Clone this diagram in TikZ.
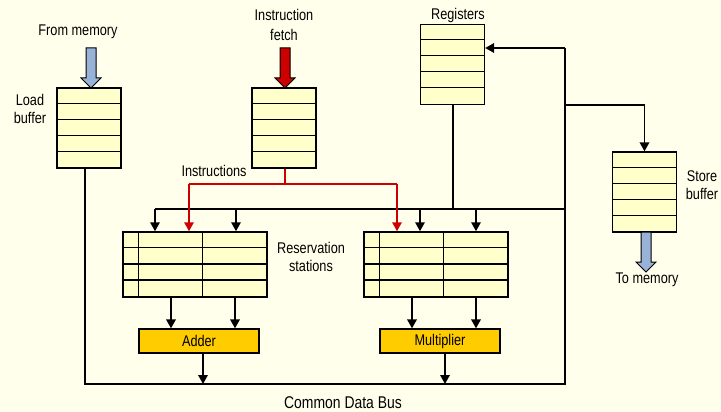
\documentclass[tikz,border=0pt]{standalone}
\usepackage{fontspec}
\setmainfont{Liberation Sans}[FakeStretch=0.82]
\usetikzlibrary{arrows.meta,calc}
\definecolor{bg}{RGB}{255,255,236}
\definecolor{bufcol}{RGB}{255,255,204}
\definecolor{fucol}{RGB}{255,204,0}
\definecolor{bluearr}{RGB}{152,178,216}
\definecolor{redarr}{RGB}{204,0,0}
\begin{document}
\begin{tikzpicture}[x=1pt,y=-1pt,
  every node/.style={font=\fontsize{15.5}{17.5}\selectfont},
  buf/.style={draw, fill=bufcol, line width=1.3, minimum width=64, minimum height=80, inner sep=0},
  rs/.style={draw, fill=bufcol, line width=1.5, minimum width=144, minimum height=65, inner sep=0},
  fu/.style={draw, fill=fucol, line width=1.3, minimum width=120, minimum height=24, inner sep=0},
  lbl/.style={inner sep=0, align=center},
  grid/.style={line width=1.3},
  rsgrid/.style={line width=1.5},
  bus/.style={line width=2},
  arr/.style={line width=1.8, -{Triangle[length=9,width=9.5]}},
  redl/.style={line width=1.5, draw=redarr},
  redarrow/.style={line width=1.5, draw=redarr, -{Triangle[length=9,width=9.5]}, fill=redarr},
  blockarr/.style={draw, line width=1}
]
\fill[bg] (0,0) rectangle (721,412);
\useasboundingbox (0,0) rectangle (721,412);

% buffers
\node[buf] (lb) at (89,128) {};
\node[buf] (ib) at (284,128) {};
\node[buf] (reg) at (452.5,64.5) {};
\node[buf] (st) at (644.5,192) {};
\foreach \b in {lb,ib,reg,st}
  \foreach \d in {16,32,48,64}
    \draw[grid] ([yshift=-\d]\b.north west) -- ([yshift=-\d]\b.north east);

% reservation stations
\node[rs] (rsa) at (195,264.5) {};
\node[rs] (rsm) at (436,264.5) {};
\foreach \b in {rsa,rsm}{
  \foreach \d in {16.25,32.5,48.75}
    \draw[rsgrid] ([yshift=-\d]\b.north west) -- ([yshift=-\d]\b.north east);
  \foreach \d in {16,80}
    \draw[rsgrid] ([xshift=\d]\b.north west) -- ([xshift=\d]\b.south west);
}

% functional units
\node[fu] (add) at (199,341) {Adder};
\node[fu] (mul) at (440,341) {Multiplier};

% block arrows
\draw[blockarr, fill=bluearr] (86,48) -- (96,48) -- (96,78) -- (101,78) -- (91,88) -- (81,78) -- (86,78) -- cycle;
\draw[blockarr, fill=redarr] (280,48) -- (290,48) -- (290,78) -- (295,78) -- (285,88) -- (275,78) -- (280,78) -- cycle;
\draw[blockarr, fill=bluearr] (641,232) -- (651,232) -- (651,262) -- (656,262) -- (646,272) -- (636,262) -- (641,262) -- cycle;

% coordinates
\coordinate (cdbL) at (85,384);
\coordinate (cdbR) at (565,384);
\coordinate (regIn) at (565,48);
\coordinate (stBr) at (565,105);
\coordinate (opL) at (155,209);
\coordinate (opR) at (565,209);
\coordinate (insJ) at (285,184);
\coordinate (insL) at (189,184);
\coordinate (insR) at (397,184);

% common data bus and register/store paths
\draw[bus] (lb.south -| cdbL) -- (cdbL) -- (cdbR) -- (regIn);
\draw[arr] (regIn) -- (reg.east |- regIn);
\draw[arr] (stBr) -- (stBr -| st.north) -- (st.north);
\draw[bus] (opL) -- (opR);
\draw[bus] (reg.south) -- (reg.south |- opL);

% operand arrows
\foreach \x in {155,236}
  \draw[arr] (opL -| \x,0) -- (rsa.north -| \x,0);
\foreach \x in {420,476}
  \draw[arr] (opL -| \x,0) -- (rsm.north -| \x,0);

% instruction paths
\draw[redl] (ib.south -| insJ) -- (insJ);
\draw[redl] (insL) -- (insR);
\draw[redarrow] (insL) -- (rsa.north -| insL);
\draw[redarrow] (insR) -- (rsm.north -| insR);

% RS to FUs
\foreach \x in {171,235}
  \draw[arr] (rsa.south -| \x,0) -- (add.north -| \x,0);
\foreach \x in {412,476}
  \draw[arr] (rsm.south -| \x,0) -- (mul.north -| \x,0);
\draw[arr] (add.south -| 203,0) -- (cdbL -| 203,0);
\draw[arr] (mul.south -| 445,0) -- (cdbL -| 445,0);

% labels
\node[lbl] (tfm) at (78,32) {From memory};
\node[lbl] (tif) at (284,25) {Instruction\\[2pt]fetch};
\node[lbl] (tlb) at (30,109) {Load\\buffer};
\node[lbl] (tins) at (214,171) {Instructions};
\node[lbl] (treg) at (458,15) {Registers};
\node[lbl] (tsb) at (702,185) {Store\\buffer};
\node[lbl] (trs) at (311,257) {Reservation\\[0.5pt]stations};
\node[lbl] (ttm) at (647,280) {To memory};
\node[lbl, font=\fontsize{17}{20}\selectfont] (tcdb) at (343,403) {Common Data Bus};
\end{tikzpicture}
\end{document}
